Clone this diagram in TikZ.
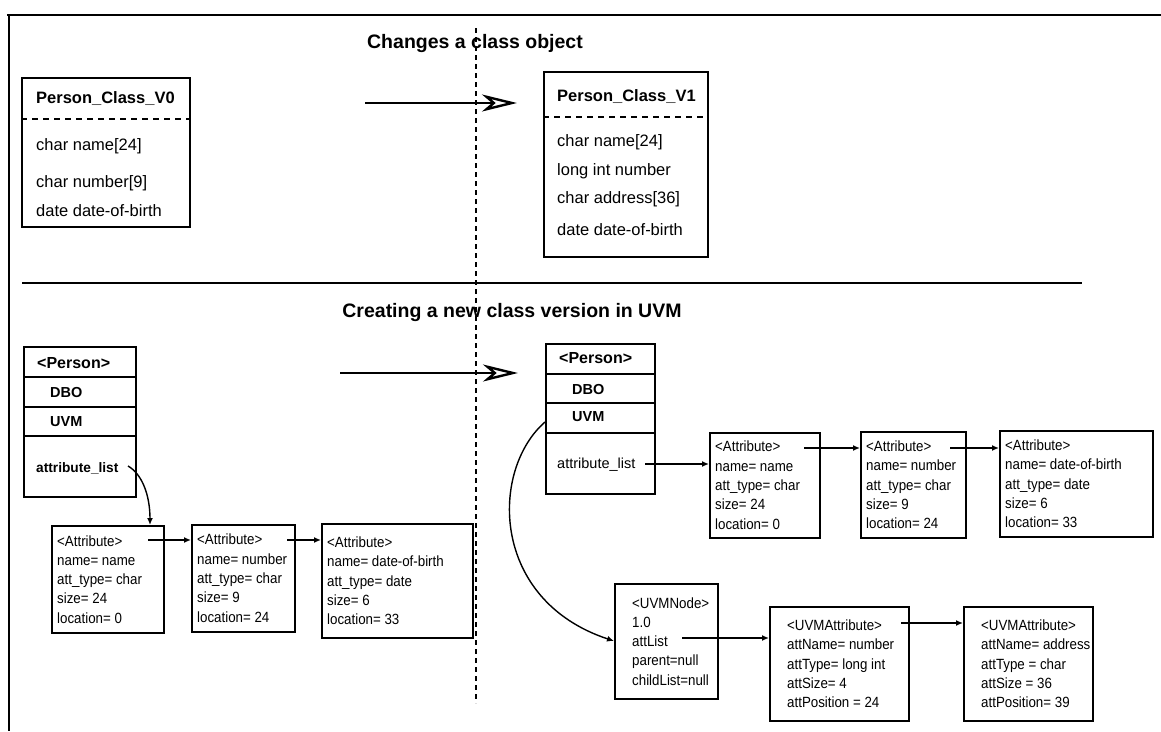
\documentclass[tikz,border=0pt]{standalone}
\usepackage{fontspec}
\setmainfont{Liberation Sans}
\newfontfamily\boxfont[FakeStretch=0.9]{Liberation Sans}
\usetikzlibrary{arrows.meta}
\newcommand\txtsm{\boxfont\fontsize{14.8}{19.3}\selectfont}
\newcommand\txtmd{\fontsize{16.5}{20}\selectfont}
\newcommand\txttitle{\fontsize{19.5}{24}\selectfont\bfseries}
\begin{document}
\begin{tikzpicture}[x=1pt,y=-1pt,
  frame/.style={line width=1.5pt},
  box/.style={draw, line width=1.6pt, anchor=north west, inner sep=0pt},
  btxt/.style={anchor=west, inner sep=0pt, align=left, font=\txtsm, xshift=6pt},
  lbl/.style={anchor=west, inner sep=0pt},
  rowtxt/.style={lbl, font=\txtmd},
  hdtxt/.style={lbl, font=\txtmd\bfseries},
  title/.style={inner sep=0pt, font=\txttitle},
  sepline/.style={line width=1.4pt},
  dashsep/.style={line width=1.2pt, dash pattern=on 6pt off 5pt},
  divider/.style={line width=1.4pt, dash pattern=on 5pt off 4pt},
  conn/.style={line width=1.4pt, -{Latex[length=7pt,width=6pt]}},
  bigarrow/.style={line width=2.6pt, -{Stealth[open,length=35pt,width=17pt,inset=10pt,line width=2.4pt]}}]
\useasboundingbox (0,0) rectangle (1161,731);

% outer frame (top and left edges) and section divider
\draw[frame] (7,15) -- (1161,15);
\draw[frame] (9,15) -- (9,731);
\draw[frame] (22,283) -- (1082,283);
\draw[divider] (476,28) -- (476,703);

% titles
\node[title] (t1) at (475,43) {Changes a class object};
\node[title] (t2) at (512,312) {Creating a new class version in UVM};

% ---------- upper part: class definitions ----------
\node[box, minimum width=168pt, minimum height=149pt] (v0) at (21,77) {};
\draw[dashsep] (v0.west |- 0,119) -- (v0.east |- 0,119);
\node[hdtxt] (v0h) at (36,99) {Person\_Class\_V0};
\node[rowtxt] (v0a) at (36,146) {char name[24]};
\node[rowtxt] (v0b) at (36,183) {char number[9]};
\node[rowtxt] (v0c) at (36,211) {date date-of-birth};

\node[box, minimum width=164pt, minimum height=185pt] (v1) at (543,71) {};
\draw[dashsep] (v1.west |- 0,117) -- (v1.east |- 0,117);
\node[hdtxt] (v1h) at (557,97) {Person\_Class\_V1};
\node[rowtxt] (v1a) at (557,142) {char name[24]};
\node[rowtxt] (v1b) at (557,171) {long int number};
\node[rowtxt] (v1c) at (557,199) {char address[36]};
\node[rowtxt] (v1d) at (557,230) {date date-of-birth};

\coordinate (arr1s) at (365,103);
\coordinate (arr1e) at (517,103);
\draw[bigarrow] (arr1s) -- (arr1e);

% ---------- lower part: UVM objects ----------
\coordinate (arr2s) at (340,373);
\coordinate (arr2e) at (518,373);
\draw[bigarrow] (arr2s) -- (arr2e);

% left <Person> object
\node[box, minimum width=112pt, minimum height=150pt] (pl) at (23,346) {};
\draw[sepline] (pl.west |- 0,377) -- (pl.east |- 0,377);
\draw[sepline] (pl.west |- 0,407) -- (pl.east |- 0,407);
\draw[sepline] (pl.west |- 0,436) -- (pl.east |- 0,436);
\node[lbl, font=\fontsize{16}{18}\selectfont\bfseries] (plh) at (37,363) {<Person>};
\node[lbl, font=\fontsize{14.5}{18}\selectfont\bfseries] (pld) at (50,393) {DBO};
\node[lbl, font=\fontsize{14.5}{18}\selectfont\bfseries] (plu) at (50,422) {UVM};
\node[lbl, font=\fontsize{13.7}{18}\selectfont\bfseries] (pll) at (36,468) {attribute\_list};

% right <Person> object
\node[box, minimum width=109pt, minimum height=150pt] (pr) at (545,343) {};
\draw[sepline] (pr.west |- 0,374) -- (pr.east |- 0,374);
\draw[sepline] (pr.west |- 0,403) -- (pr.east |- 0,403);
\draw[sepline] (pr.west |- 0,433) -- (pr.east |- 0,433);
\node[lbl, font=\fontsize{16}{18}\selectfont\bfseries] (prh) at (559,358) {<Person>};
\node[lbl, font=\fontsize{14.5}{18}\selectfont\bfseries] (prd) at (572,390) {DBO};
\node[lbl, font=\fontsize{14.5}{18}\selectfont\bfseries] (pru) at (572,417) {UVM};
\node[lbl, font=\fontsize{14.5}{18}\selectfont] (prl) at (557,465) {attribute\_list};

% attribute list of the old version
\node[box, minimum width=112pt, minimum height=107pt] (a1) at (51,525) {};
\node[btxt] (a1t) at (a1.west) {<Attribute>\\name= name\\att\_type= char\\size= 24\\location= 0};
\node[box, minimum width=103pt, minimum height=107pt] (a2) at (191,524) {};
\node[btxt] (a2t) at (a2.west) {<Attribute>\\name= number\\att\_type= char\\size= 9\\location= 24};
\node[box, minimum width=151pt, minimum height=114pt] (a3) at (321,523) {};
\node[btxt] (a3t) at (a3.west) {<Attribute>\\name= date-of-birth\\att\_type= date\\size= 6\\location= 33};

% attribute list of the new version
\node[box, minimum width=110pt, minimum height=105pt] (b1) at (709,432) {};
\node[btxt] (b1t) at (b1.west) {<Attribute>\\name= name\\att\_type= char\\size= 24\\location= 0};
\node[box, minimum width=105pt, minimum height=106pt] (b2) at (860,431) {};
\node[btxt] (b2t) at (b2.west) {<Attribute>\\name= number\\att\_type= char\\size= 9\\location= 24};
\node[box, minimum width=153pt, minimum height=106pt] (b3) at (999,430) {};
\node[btxt] (b3t) at (b3.west) {<Attribute>\\name= date-of-birth\\att\_type= date\\size= 6\\location= 33};

% UVM node and its changed attributes
\node[box, minimum width=103pt, minimum height=115pt] (un) at (614,583) {};
\node[btxt, xshift=12pt] (unt) at (un.west) {<UVMNode>\\1.0\\attList\\parent=null\\childList=null};
\node[box, minimum width=139pt, minimum height=114pt] (u1) at (769,606) {};
\node[btxt, xshift=12pt] (u1t) at (u1.west) {<UVMAttribute>\\attName= number\\attType= long int\\attSize= 4\\attPosition = 24};
\node[box, minimum width=129pt, minimum height=114pt] (u2) at (963,606) {};
\node[btxt, xshift=12pt] (u2t) at (u2.west) {<UVMAttribute>\\attName= address\\attType = char\\attSize = 36\\attPosition= 39};

% links
\coordinate (plo) at (128,466);
\coordinate (a1in) at (150,525);
\draw[conn] (plo) .. controls (142,474) and (150,495) .. (a1in);

\coordinate (a1o) at (148,540);
\draw[conn] (a1o) -- (a1o -| a2.west);
\coordinate (a2o) at (287,540);
\draw[conn] (a2o) -- (a2o -| a3.west);

\coordinate (pro) at (645,464);
\draw[conn] (pro) -- (pro -| b1.west);
\coordinate (b1o) at (804,448);
\draw[conn] (b1o) -- (b1o -| b2.west);
\coordinate (b2o) at (950,448);
\draw[conn] (b2o) -- (b2o -| b3.west);

\coordinate (pruvm) at (545,422);
\coordinate (unin) at (614,641);
\draw[conn] (pruvm) .. controls (490,470) and (490,600) .. (unin);

\coordinate (uno) at (682,638);
\draw[conn] (uno) -- (uno -| u1.west);
\coordinate (u1o) at (901,623);
\draw[conn] (u1o) -- (u1o -| u2.west);
\end{tikzpicture}
\end{document}
